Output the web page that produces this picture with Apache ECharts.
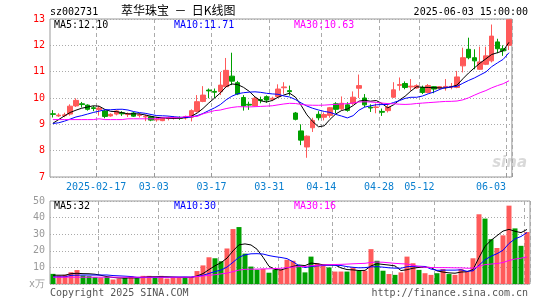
<!DOCTYPE html>
<html><head><meta charset="utf-8">
<script src="https://cdn.jsdelivr.net/npm/echarts@6/dist/echarts.min.js"></script>
<style>html,body{margin:0;padding:0;background:#fff}#c{width:545px;height:300px}</style>
</head><body><div id="c"></div>
<script>
const dates = [
'2025-02-05','2025-02-06','2025-02-07','2025-02-10','2025-02-11','2025-02-12','2025-02-13','2025-02-14',
'2025-02-17','2025-02-18','2025-02-19','2025-02-20','2025-02-21','2025-02-24','2025-02-25','2025-02-26','2025-02-27','2025-02-28',
'2025-03-03','2025-03-04','2025-03-05','2025-03-06','2025-03-07','2025-03-10','2025-03-11','2025-03-12','2025-03-13','2025-03-14',
'2025-03-17','2025-03-18','2025-03-19','2025-03-20','2025-03-21','2025-03-24','2025-03-25','2025-03-26','2025-03-27','2025-03-28',
'2025-03-31','2025-04-01','2025-04-02','2025-04-03','2025-04-07','2025-04-08','2025-04-09','2025-04-10','2025-04-11',
'2025-04-14','2025-04-15','2025-04-16','2025-04-17','2025-04-18','2025-04-21','2025-04-22','2025-04-23','2025-04-24','2025-04-25',
'2025-04-28','2025-04-29','2025-04-30','2025-05-06','2025-05-07','2025-05-08','2025-05-09',
'2025-05-12','2025-05-13','2025-05-14','2025-05-15','2025-05-16','2025-05-19','2025-05-20','2025-05-21','2025-05-22','2025-05-23',
'2025-05-26','2025-05-27','2025-05-28','2025-05-29','2025-05-30','2025-06-03'];

const opens  = [9.40,9.32,9.33,9.39,9.70,9.78,9.73,9.63,9.56,9.51,9.32,9.39,9.44,9.37,9.43,9.34,9.28,9.29,9.17,9.14,
                9.22,9.24,9.26,9.24,9.27,9.49,9.87,10.30,10.25,10.24,10.43,10.83,10.58,10.02,9.76,9.70,9.94,10.05,9.95,10.05,
                10.39,10.28,9.43,8.75,8.14,8.87,9.38,9.27,9.34,9.78,9.59,9.74,9.80,10.37,10.00,9.65,9.64,9.49,9.52,10.03,
                10.48,10.55,10.42,10.38,10.40,10.21,10.43,10.37,10.41,10.42,10.40,11.22,11.85,11.53,11.09,11.28,11.41,12.13,11.87,12.00];
const closes = [9.38,9.35,9.36,9.69,9.91,9.75,9.57,9.60,9.62,9.30,9.38,9.51,9.40,9.40,9.31,9.36,9.30,9.16,9.19,9.24,
                9.26,9.25,9.23,9.29,9.52,9.86,10.11,10.27,10.22,10.49,11.05,10.64,10.15,9.70,9.73,9.99,9.90,9.92,9.99,10.34,
                10.42,10.24,9.19,8.40,8.55,9.15,9.25,9.37,9.63,9.57,9.80,9.53,10.03,10.47,9.74,9.62,9.66,9.46,9.65,10.31,
                10.51,10.40,10.45,10.47,10.21,10.47,10.34,10.43,10.44,10.44,10.80,11.53,11.53,11.41,11.37,11.60,12.35,11.87,11.79,12.97];
const lows   = [9.26,9.28,9.27,9.33,9.66,9.64,9.52,9.50,9.33,9.23,9.29,9.34,9.32,9.28,9.28,9.26,9.12,9.12,9.10,9.12,
                9.15,9.18,9.17,9.18,9.11,9.45,9.84,9.99,10.00,10.11,10.38,10.49,10.11,9.52,9.55,9.68,9.80,9.82,9.88,10.00,
                10.16,10.09,9.15,8.21,7.73,8.71,9.15,9.15,9.25,9.42,9.53,9.48,9.74,10.00,9.65,9.47,9.42,9.32,9.45,10.00,
                10.28,10.33,10.28,10.35,10.15,10.18,10.18,10.30,10.28,10.33,10.37,10.97,11.47,11.09,11.07,11.25,11.35,11.70,11.60,11.82];
const highs  = [9.54,9.42,9.44,9.76,9.99,9.85,9.76,9.70,9.70,9.55,9.42,9.55,9.50,9.45,9.47,9.43,9.37,9.32,9.29,9.26,
                9.30,9.31,9.30,9.33,9.57,10.11,10.45,10.36,10.36,10.99,11.52,11.72,10.65,10.11,9.86,10.05,10.05,10.10,10.05,10.52,
                10.60,10.47,9.47,9.00,8.58,9.25,9.50,9.45,9.66,9.84,10.06,9.84,10.25,10.89,10.15,9.76,9.79,9.60,9.80,10.60,
                10.78,10.63,10.72,10.52,10.47,10.53,10.45,10.45,10.72,10.57,11.03,11.91,12.29,11.85,11.95,11.95,12.79,12.25,12.00,12.97];
const volumes = [6.1,5.1,5.5,7.1,8.4,5.1,4.7,4.1,3.9,4.3,2.7,3.3,3.7,4.7,3.5,4.9,4.9,3.9,4.9,3.3,
                 4.0,4.0,4.0,4.3,7.8,11.2,16.1,15.5,13.7,21.4,33.1,34.3,18.3,10.5,8.6,9.1,6.8,8.8,8.8,14.6,
                 14.0,11.0,7.0,16.5,12.5,11.0,10.0,7.5,7.5,7.5,10.0,8.0,8.0,21.0,14.0,8.0,6.0,5.5,7.0,16.5,
                 12.5,8.5,6.5,5.5,6.5,9.0,6.0,5.5,9.0,7.5,15.5,42.0,39.4,27.0,21.7,29.3,47.2,33.5,23.0,31.3];

// moving-average values before enough in-window data exists
const ma5Head  = [9.04,9.18,9.32,9.45];
const ma10Head = [9.03,9.06,9.12,9.20,9.28,9.33,9.39,9.45,9.50];
const ma30Head = [9.18,9.18,9.18,9.18,9.18,9.18,9.18,9.18,9.21,9.18,9.18,9.18,9.18,9.21,9.21,9.21,9.21,9.21,9.21,
                  9.25,9.25,9.25,9.25,9.30,9.30,9.30,9.40,9.46,9.52];
const vma5Head  = [5.3,5.3,5.3,6.2];
const vma10Head = [4.3,4.3,4.3,5.2,5.3,5.4,5.4,5.4,5.4];
const vma30Head = [4.1,4.1,4.1,4.1,4.1,4.1,4.1,4.1,4.1,4.1,4.1,4.1,4.1,4.1,4.1,4.1,4.1,4.1,4.1,4.1,4.1,4.1,4.1,4.1,
                   4.5,4.8,5.2,5.6,6.1];

const tickDates  = ['2025-02-17','2025-03-03','2025-03-17','2025-03-31','2025-04-14','2025-04-28','2025-05-12','2025-06-03'];
const tickLabels = ['2025-02-17','03-03','03-17','03-31','04-14','04-28','05-12','06-03'];
const priceLegend = ['MA5:12.10','MA10:11.71','MA30:10.63'];
const volLegend   = ['MA5:32','MA10:30','MA30:16'];

const UP = '#ff5a5a', DOWN = '#00a000';
const MONO = 'DejaVu Sans Mono';
const tickIdx = tickDates.map(d => dates.indexOf(d));
const isTick = i => tickIdx.indexOf(i) >= 0;
function ma(vals, n, head) {
  return vals.map((v, i) => {
    if (i < n - 1) return head[i];
    let s = 0; for (let k = i - n + 1; k <= i; k++) s += vals[k];
    return +(s / n).toFixed(3);
  });
}
const kData = dates.map((d, i) => [opens[i], closes[i], lows[i], highs[i]]);
const volData = volumes.map((v, i) => ({ value: v, itemStyle: { color: closes[i] >= opens[i] ? UP : DOWN } }));
const splitX = { show: true, interval: (i) => isTick(i), lineStyle: { color: '#aaa', type: [4, 3], width: 1 } };
const splitY = { show: true, lineStyle: { color: '#aaa', type: [1, 2], width: 1 } };
const line = (name, data, color, xi) => ({
  name, type: 'line', data, xAxisIndex: xi, yAxisIndex: xi, symbol: 'none', smooth: false, z: 5,
  lineStyle: { color, width: 1 }, itemStyle: { color }
});
function txt(x, y, text, fill, font, align) {
  return { type: 'text', x, y, z: 100, style: { text, fill, font, align: align || 'left', verticalAlign: 'middle' } };
}

const chart = echarts.init(document.getElementById('c'));
chart.setOption({
  animation: false,
  backgroundColor: '#fff',
  grid: [
    { left: 50, top: 19, width: 480, height: 158, show: true, borderColor: '#999', borderWidth: 1 },
    { left: 50, top: 201, width: 480, height: 83, show: true, borderColor: '#999', borderWidth: 1 }
  ],
  xAxis: [
    { type: 'category', gridIndex: 0, data: dates, boundaryGap: true,
      axisLine: { show: false },
      axisTick: { show: true, inside: true, length: 4, interval: (i) => isTick(i), lineStyle: { color: '#999' } },
      axisLabel: { interval: (i) => isTick(i), color: '#0a7fcf', fontFamily: MONO, fontSize: 10, margin: 5,
        formatter: (v, i) => { const k = tickIdx.indexOf(i); if (k < 0) return ''; return tickLabels[k] + (k === tickIdx.length - 1 ? '      ' : ' '); } },
      splitLine: splitX },
    { type: 'category', gridIndex: 1, data: dates, boundaryGap: true,
      axisLine: { show: false }, axisTick: { show: false }, axisLabel: { show: false }, splitLine: splitX }
  ],
  yAxis: [
    { type: 'value', gridIndex: 0, min: 7, max: 13, interval: 1, scale: true,
      axisLine: { show: false }, axisTick: { show: false },
      axisLabel: { color: '#f00', fontFamily: MONO, fontSize: 10, margin: 5 }, splitLine: splitY },
    { type: 'value', gridIndex: 1, min: 0, max: 50, interval: 10,
      axisLine: { show: false }, axisTick: { show: false },
      axisLabel: { color: '#999', fontFamily: MONO, fontSize: 10, margin: 5, formatter: v => v === 0 ? 'x万' : String(v) },
      splitLine: splitY }
  ],
  series: [
    { type: 'candlestick', data: kData, xAxisIndex: 0, yAxisIndex: 0, barWidth: 5,
      itemStyle: { color: UP, color0: DOWN, borderColor: UP, borderColor0: DOWN, borderWidth: 1 } },
    line('MA5', ma(closes, 5, ma5Head), '#000000', 0),
    line('MA10', ma(closes, 10, ma10Head), '#0000ff', 0),
    line('MA30', ma(closes, 30, ma30Head), '#ff00ff', 0),
    { type: 'bar', data: volData, xAxisIndex: 1, yAxisIndex: 1, barWidth: 5 },
    line('VMA5', ma(volumes, 5, vma5Head), '#000000', 1),
    line('VMA10', ma(volumes, 10, vma10Head), '#0000ff', 1),
    line('VMA30', ma(volumes, 30, vma30Head), '#ff00ff', 1)
  ],
  graphic: [
    txt(50, 12, 'sz002731', '#000', '10px "DejaVu Sans Mono"'),
    txt(121, 10, '萃华珠宝  －  日K线图', '#000', '12px "Noto Sans CJK SC"'),
    txt(528, 12, '2025-06-03 15:00:00', '#000', '10px "DejaVu Sans Mono"', 'right'),
    txt(54, 25, priceLegend[0], '#000', '10px "DejaVu Sans Mono"'),
    txt(174, 25, priceLegend[1], '#0000ff', '10px "DejaVu Sans Mono"'),
    txt(294, 25, priceLegend[2], '#ff00ff', '10px "DejaVu Sans Mono"'),
    txt(54, 206, volLegend[0], '#000', '10px "DejaVu Sans Mono"'),
    txt(174, 206, volLegend[1], '#0000ff', '10px "DejaVu Sans Mono"'),
    txt(294, 206, volLegend[2], '#ff00ff', '10px "DejaVu Sans Mono"'),
    txt(50, 293, 'Copyright 2025 SINA.COM', '#555', '10px "DejaVu Sans Mono"'),
    txt(528, 293, 'http://finance.sina.com.cn', '#555', '10px "DejaVu Sans Mono"', 'right'),
    txt(527, 163, 'sina', 'rgba(170,170,170,0.45)', 'italic bold 15px "DejaVu Sans"', 'right')
  ]
});
</script></body></html>
